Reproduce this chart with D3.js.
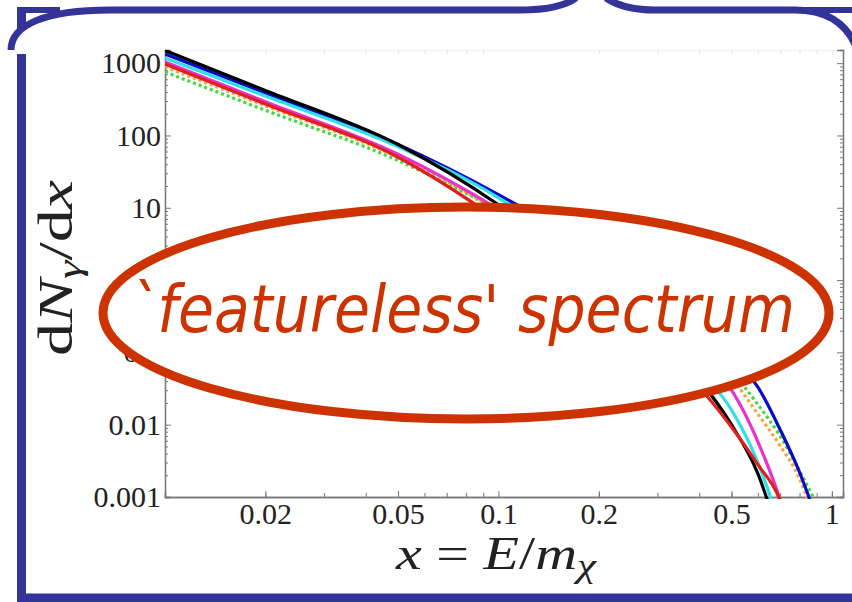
<!DOCTYPE html>
<html>
<head>
<meta charset="utf-8">
<script src="https://cdn.jsdelivr.net/npm/d3@7"></script>
<style>
  body { margin: 0; background: #fff; }
  svg { display: block; }
  .serif { font-family: "Liberation Serif", "DejaVu Serif", serif; }
</style>
</head>
<body>
<svg width="852" height="602"></svg>
<script>
// x = E/m_chi sample points shared by every spectrum
const xGrid = [0.01, 0.02, 0.05, 0.1, 0.2, 0.3, 0.4, 0.5, 0.6, 0.7, 0.8, 0.9];

// dN/dx (series stop once they fall below 0.001)
const blackVals   = [1500, 420, 75, 11, 0.9, 0.17, 0.042, 0.010, 0.0021, 0.00025];
const blueVals    = [1340, 387, 75, 15.2, 2.3, 0.59, 0.21, 0.083, 0.033, 0.0085, 0.0022, 0.0005];
const cyanVals    = [1180, 350, 70, 13.7, 1.3, 0.23, 0.058, 0.016, 0.003, 0.0004];
const magentaVals = [1040, 292, 55, 9.5, 1.1, 0.26, 0.081, 0.030, 0.0058, 0.0009, 0.0001];
const redVals     = [975, 272, 50, 6.7, 0.56, 0.12, 0.033, 0.0093, 0.0028, 0.00089, 0.0001];
const orangeVals  = [885, 257, 50, 9.1, 1.16, 0.32, 0.11, 0.044, 0.014, 0.0051, 0.0018, 0.0004];
const greenVals   = [755, 223, 45, 9.1, 1.27, 0.37, 0.135, 0.054, 0.019, 0.0069, 0.0023, 0.0008];

const xLabels = [0.02, 0.05, 0.1, 0.2, 0.5, 1];
const yLabels = [0.001, 0.01, 0.1, 1, 10, 100, 1000];
const yLabelText = ["0.001", "0.01", "0.1", "1", "10", "100", "1000"];

const series = [
  { vals: greenVals, color: "#3ddc3d", dash: "3,3" },
  { vals: orangeVals, color: "#ffa040", dash: "3,3" },
  { vals: blueVals, color: "#0a0ac8", dash: null },
  { vals: magentaVals, color: "#e633cc", dash: null },
  { vals: cyanVals, color: "#2fe0e6", dash: null },
  { vals: blackVals, color: "#000000", dash: null },
  { vals: redVals, color: "#e02020", dash: null }
];

const svg = d3.select("svg");
const pLeft = 165, pRight = 843, pTop = 50, pBottom = 497;

const x = d3.scaleLog().domain([0.01, 1.08]).range([pLeft, pRight]);
const y = d3.scaleLog().domain([0.001, 1520]).range([pBottom, pTop]);

// minor tick values
let xMinor = [];
for (let k = 2; k <= 9; k++) { xMinor.push(k / 100); xMinor.push(k / 10); }
xMinor.push(1);
let yMinor = [];
for (let e = -3; e <= 3; e++) {
  for (let k = 2; k <= 9; k++) {
    let v = k * Math.pow(10, e);
    if (v < 1520) yMinor.push(v);
  }
}

const axisColor = "#777";

function styleAxis(g) {
  g.select(".domain").attr("stroke", axisColor).attr("stroke-width", 1.3);
  g.selectAll(".tick line").attr("stroke", axisColor).attr("stroke-width", 1);
}

function styleLabels(g) {
  g.attr("font-family", null).attr("font-size", null);
  g.selectAll("text")
    .attr("class", "serif")
    .style("font-size", "30px")
    .attr("fill", "#222");
}

// bottom axis
svg.append("g")
  .attr("transform", "translate(0," + pBottom + ")")
  .call(d3.axisBottom(x).tickValues(xMinor).tickSize(-4).tickFormat(""))
  .call(styleAxis);

svg.append("g")
  .attr("transform", "translate(0," + pBottom + ")")
  .call(d3.axisBottom(x).tickValues(xLabels).tickSize(-6).tickPadding(6)
    .tickFormat(d3.format("")))
  .call(styleAxis)
  .call(styleLabels);

// top axis (very faint)
svg.append("g")
  .attr("transform", "translate(0," + pTop + ")")
  .call(d3.axisTop(x).tickValues(xMinor).tickSize(-4).tickFormat(""))
  .call(g => {
    g.select(".domain").attr("stroke", "#f2f2f2");
    g.selectAll(".tick line").attr("stroke", "#e4e4e4");
  });

// left axis
svg.append("g")
  .attr("transform", "translate(" + pLeft + ",0)")
  .call(d3.axisLeft(y).tickValues(yMinor).tickSize(-3).tickFormat(""))
  .call(styleAxis);

svg.append("g")
  .attr("transform", "translate(" + pLeft + ",0)")
  .call(d3.axisLeft(y).tickValues(yLabels).tickSize(-6).tickPadding(4)
    .tickFormat((d, i) => yLabelText[i]))
  .call(styleAxis)
  .call(styleLabels);

// right axis
svg.append("g")
  .attr("transform", "translate(" + pRight + ",0)")
  .call(d3.axisRight(y).tickValues(yMinor).tickSize(-3).tickFormat(""))
  .call(styleAxis);
svg.append("g")
  .attr("transform", "translate(" + pRight + ",0)")
  .call(d3.axisRight(y).tickValues(yLabels).tickSize(-6).tickFormat(""))
  .call(styleAxis);

// curves
svg.append("clipPath").attr("id", "plotclip")
  .append("rect")
  .attr("x", pLeft).attr("y", pTop)
  .attr("width", pRight - pLeft).attr("height", pBottom - pTop + 2);

const line = d3.line()
  .x(d => x(d[0]))
  .y(d => y(d[1]))
  .curve(d3.curveMonotoneX);

svg.append("g")
  .attr("clip-path", "url(#plotclip)")
  .selectAll("path")
  .data(series)
  .enter()
  .append("path")
  .attr("d", s => line(s.vals.map((v, i) => [xGrid[i], v])))
  .attr("fill", "none")
  .attr("stroke", s => s.color)
  .attr("stroke-width", 3.2)
  .attr("stroke-dasharray", s => s.dash);

// axis titles
let yTitle = svg.append("text")
  .attr("class", "serif")
  .attr("transform", "translate(72,268) rotate(-90)")
  .attr("text-anchor", "middle")
  .style("font-size", "48px")
  .attr("fill", "#222")
  .attr("textLength", 176)
  .attr("lengthAdjust", "spacingAndGlyphs");
yTitle.append("tspan").text("d");
yTitle.append("tspan").attr("font-style", "italic").text("N");
yTitle.append("tspan").attr("font-style", "italic").style("font-size", "34px").attr("dy", 9).text("γ");
yTitle.append("tspan").attr("dy", -9).text("/d");
yTitle.append("tspan").attr("font-style", "italic").text("x");

let xTitle = svg.append("text")
  .attr("class", "serif")
  .attr("x", 396)
  .attr("y", 569)
  .style("font-size", "46px")
  .attr("fill", "#222")
  .attr("textLength", 200)
  .attr("lengthAdjust", "spacingAndGlyphs");
xTitle.append("tspan").attr("font-style", "italic").text("x");
xTitle.append("tspan").text(" = ");
xTitle.append("tspan").attr("font-style", "italic").text("E");
xTitle.append("tspan").text("/");
xTitle.append("tspan").attr("font-style", "italic").text("m");
xTitle.append("tspan").attr("font-style", "italic").style("font-size", "34px").attr("dy", 8).text("χ");

// the annotation balloon
svg.append("ellipse")
  .attr("cx", 466).attr("cy", 313)
  .attr("rx", 363).attr("ry", 106)
  .attr("fill", "#fff")
  .attr("stroke", "#cc3300")
  .attr("stroke-width", 9);

svg.append("text")
  .attr("x", 128)
  .attr("y", 332)
  .style("font-family", "'DejaVu Sans', sans-serif")
  .style("font-style", "italic")
  .style("font-size", "66px")
  .attr("fill", "#cc3300")
  .attr("textLength", 667)
  .attr("lengthAdjust", "spacingAndGlyphs")
  .text("`featureless' spectrum");

// slide frame
const frameColor = "#333399";
svg.append("path")
  .attr("d", "M21.5,10 V598 M17,598 H852")
  .attr("fill", "none").attr("stroke", frameColor).attr("stroke-width", 9);
svg.append("path")
  .attr("d", "M17,10 H60 M790,10 H852")
  .attr("fill", "none").attr("stroke", frameColor).attr("stroke-width", 6);
svg.append("path")
  .attr("d", "M12,54 C12,28 45,10 110,10 L110,54 Z")
  .attr("fill", "#fff");
svg.append("path")
  .attr("d", "M11,50 C11,25 45,10 110,10 H520 C548,10 565,6 576,-2")
  .attr("fill", "none").attr("stroke", frameColor).attr("stroke-width", 7);
svg.append("path")
  .attr("d", "M606,-2 C618,6 632,10 655,10 H795 C832,10 850,28 858,52")
  .attr("fill", "none").attr("stroke", frameColor).attr("stroke-width", 7);
</script>
</body>
</html>
